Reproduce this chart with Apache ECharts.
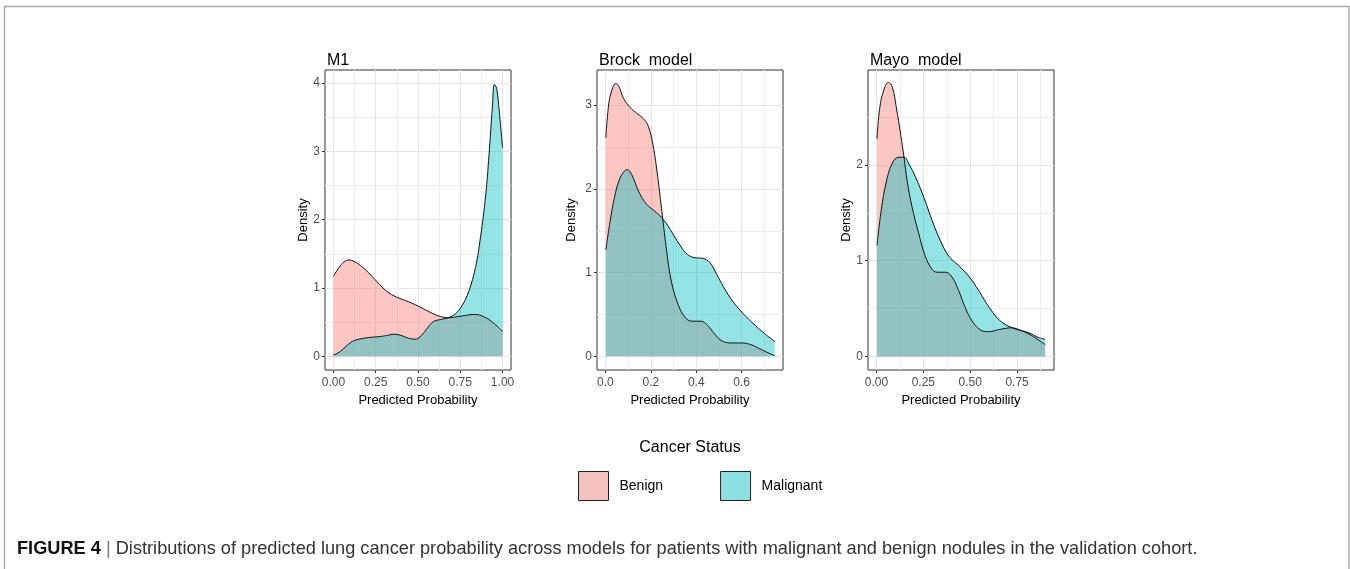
<!DOCTYPE html>
<html>
<head>
<meta charset="utf-8">
<title>Figure 4</title>
<script src="https://cdn.jsdelivr.net/npm/echarts@6/dist/echarts.min.js"></script>
<style>
  html, body { margin: 0; padding: 0; background: #fff; }
  #chart { width: 1350px; height: 569px; }
</style>
</head>
<body>
<div id="chart"></div>
<script>
// panel titles and legend names
var panelTitles = ['M1', 'Brock  model', 'Mayo  model'];
var statusNames = ['Benign', 'Malignant'];

// tick values per panel
var m1XTicks = [0, 0.25, 0.5, 0.75, 1];
var m1YTicks = [0, 1, 2, 3, 4];
var brockXTicks = [0, 0.2, 0.4, 0.6];
var brockYTicks = [0, 1, 2, 3];
var mayoXTicks = [0, 0.25, 0.5, 0.75];
var mayoYTicks = [0, 1, 2];

// density curves: [probability, density]
var m1Benign = [[0, 1.17], [0.033, 1.3], [0.062, 1.38], [0.092, 1.41], [0.121, 1.39], [0.16, 1.33],
  [0.209, 1.22], [0.258, 1.09], [0.316, 0.95], [0.375, 0.865], [0.443, 0.8], [0.502, 0.734],
  [0.56, 0.66], [0.619, 0.594], [0.678, 0.565], [0.756, 0.589], [0.834, 0.613], [0.893, 0.575],
  [0.951, 0.478], [1, 0.362]];
var m1Malignant = [[0, 0.02], [0.033, 0.058], [0.072, 0.14], [0.111, 0.217], [0.15, 0.25], [0.209, 0.275],
  [0.277, 0.29], [0.326, 0.31], [0.355, 0.324], [0.395, 0.31], [0.443, 0.266], [0.482, 0.25],
  [0.512, 0.285], [0.55, 0.396], [0.59, 0.507], [0.639, 0.541], [0.678, 0.565], [0.72, 0.62],
  [0.76, 0.74], [0.8, 0.95], [0.84, 1.3], [0.87, 1.75], [0.9, 2.35], [0.92, 2.95], [0.94, 3.65],
  [0.952, 3.98], [0.965, 3.92], [0.98, 3.6], [1, 3.05]];

var brockBenign = [[0.002, 2.61], [0.015, 3.02], [0.03, 3.19], [0.045, 3.26], [0.06, 3.22], [0.08, 3.08],
  [0.11, 2.97], [0.14, 2.9], [0.17, 2.83], [0.19, 2.74], [0.21, 2.52], [0.23, 2.15], [0.25, 1.7],
  [0.27, 1.25], [0.29, 0.9], [0.32, 0.62], [0.35, 0.47], [0.38, 0.42], [0.42, 0.42], [0.45, 0.37],
  [0.48, 0.27], [0.51, 0.19], [0.55, 0.16], [0.6, 0.16], [0.64, 0.14], [0.68, 0.09], [0.71, 0.05],
  [0.745, 0.01]];
var brockMalignant = [[0.002, 1.27], [0.02, 1.6], [0.04, 1.9], [0.06, 2.1], [0.08, 2.2], [0.095, 2.23],
  [0.11, 2.2], [0.13, 2.08], [0.15, 1.95], [0.18, 1.82], [0.21, 1.75], [0.24, 1.68], [0.27, 1.58],
  [0.3, 1.45], [0.33, 1.32], [0.36, 1.22], [0.39, 1.18], [0.43, 1.17], [0.46, 1.12], [0.49, 0.98],
  [0.52, 0.83], [0.56, 0.66], [0.6, 0.53], [0.64, 0.42], [0.68, 0.32], [0.72, 0.23], [0.745, 0.18]];

var mayoBenign = [[0.003, 2.27], [0.018, 2.6], [0.041, 2.79], [0.064, 2.86], [0.085, 2.81], [0.106, 2.6],
  [0.129, 2.32], [0.147, 2.08], [0.164, 1.83], [0.19, 1.56], [0.226, 1.28], [0.26, 1.05], [0.297, 0.91],
  [0.324, 0.88], [0.368, 0.88], [0.403, 0.83], [0.438, 0.69], [0.474, 0.51], [0.509, 0.375],
  [0.553, 0.28], [0.598, 0.26], [0.65, 0.28], [0.72, 0.3], [0.774, 0.27], [0.827, 0.22], [0.9, 0.125]];
var mayoMalignant = [[0.003, 1.16], [0.023, 1.49], [0.05, 1.8], [0.085, 2.02], [0.12, 2.08], [0.147, 2.08],
  [0.173, 2.01], [0.209, 1.87], [0.253, 1.66], [0.297, 1.42], [0.341, 1.21], [0.385, 1.05],
  [0.438, 0.95], [0.492, 0.84], [0.545, 0.69], [0.606, 0.5], [0.668, 0.36], [0.739, 0.29],
  [0.81, 0.25], [0.863, 0.2], [0.9, 0.18]];

var fillColors = ['rgba(248,118,109,0.42)', 'rgba(0,191,196,0.42)'];

// panel layout (ggplot-like expanded ranges)
var panels = [
  { left: 325, xMin: -0.05, xMax: 1.05, yMin: -0.2, yMax: 4.19, xStep: 0.25, yStep: 1, digits: 2,
    xTicks: m1XTicks, yTicks: m1YTicks, nameGap: 13, curves: [m1Benign, m1Malignant] },
  { left: 597, xMin: -0.037, xMax: 0.782, yMin: -0.163, yMax: 3.42, xStep: 0.2, yStep: 1, digits: 1,
    xTicks: brockXTicks, yTicks: brockYTicks, nameGap: 19, curves: [brockBenign, brockMalignant] },
  { left: 868, xMin: -0.045, xMax: 0.947, yMin: -0.14, yMax: 2.99, xStep: 0.25, yStep: 1, digits: 2,
    xTicks: mayoXTicks, yTicks: mayoYTicks, nameGap: 14, curves: [mayoBenign, mayoMalignant] }
];

var grids = [], xAxes = [], yAxes = [], series = [], titles = [];

panels.forEach(function (p, i) {
  grids.push({
    left: p.left, top: 70, width: 186, height: 300,
    show: true, borderColor: '#333', borderWidth: 1, backgroundColor: '#fff'
  });
  titles.push({
    text: panelTitles[i], left: p.left + 2, top: 53, padding: 0,
    textStyle: { fontFamily: 'Liberation Sans', fontSize: 16, fontWeight: 'normal', color: '#000' }
  });
  var digits = p.digits;
  xAxes.push({
    type: 'value', gridIndex: i, min: p.xMin, max: p.xMax,
    minInterval: p.xStep, maxInterval: p.xStep,
    name: 'Predicted Probability', nameLocation: 'middle', nameGap: 24,
    nameTextStyle: { fontFamily: 'Liberation Sans', fontSize: 13, color: '#000' },
    axisLine: { show: false, onZero: false },
    axisTick: { show: true, length: 3, customValues: p.xTicks, lineStyle: { color: '#333' } },
    axisLabel: {
      customValues: p.xTicks, margin: 7, color: '#4d4d4d', fontSize: 12, fontFamily: 'Liberation Sans',
      formatter: function (v) { return v.toFixed(digits); }
    },
    splitLine: { show: true, lineStyle: { color: '#e4e4e4', width: 1 } },
    minorTick: { show: false, splitNumber: 2 },
    minorSplitLine: { show: true, lineStyle: { color: '#eeeeee', width: 1 } }
  });
  yAxes.push({
    type: 'value', gridIndex: i, min: p.yMin, max: p.yMax,
    minInterval: p.yStep, maxInterval: p.yStep,
    name: 'Density', nameLocation: 'middle', nameGap: p.nameGap,
    nameTextStyle: { fontFamily: 'Liberation Sans', fontSize: 13, color: '#000' },
    axisLine: { show: false, onZero: false },
    axisTick: { show: true, length: 3, customValues: p.yTicks, lineStyle: { color: '#333' } },
    axisLabel: {
      customValues: p.yTicks, margin: 5, color: '#4d4d4d', fontSize: 12, fontFamily: 'Liberation Sans'
    },
    splitLine: { show: true, lineStyle: { color: '#e4e4e4', width: 1 } },
    minorTick: { show: false, splitNumber: 2 },
    minorSplitLine: { show: true, lineStyle: { color: '#eeeeee', width: 1 } }
  });
  p.curves.forEach(function (curve, k) {
    series.push({
      name: statusNames[k], type: 'line', xAxisIndex: i, yAxisIndex: i,
      data: curve, smooth: 0.4, symbol: 'none', silent: true,
      itemStyle: { color: fillColors[k] },
      lineStyle: { color: '#111', width: 1 },
      areaStyle: { color: fillColors[k], opacity: 1, origin: 0 }
    });
  });
});

// legend title and caption
titles.push({
  text: 'Cancer Status', left: 690, top: 440, textAlign: 'center', padding: 0,
  textStyle: { fontFamily: 'Liberation Sans', fontSize: 16, fontWeight: 'normal', color: '#000' }
});
titles.push({
  text: '{b|FIGURE 4} {s||} Distributions of predicted lung cancer probability across models for patients with malignant and benign nodules in the validation cohort.',
  left: 17, top: 540, padding: 0,
  textStyle: {
    fontFamily: 'Liberation Sans', fontSize: 18.2, fontWeight: 'normal', color: '#333',
    rich: {
      b: { fontFamily: 'Liberation Sans', fontSize: 18.2, fontWeight: 'bold', color: '#111' },
      s: { fontFamily: 'Liberation Sans', fontSize: 18.2, color: '#777' }
    }
  }
});

var myChart = echarts.init(document.getElementById('chart'), null, { renderer: 'canvas' });
myChart.setOption({
  backgroundColor: '#fff',
  animation: false,
  title: titles,
  grid: grids,
  xAxis: xAxes,
  yAxis: yAxes,
  legend: {
    left: 578, top: 471, padding: 0, orient: 'horizontal',
    itemWidth: 30, itemHeight: 29, itemGap: 57, icon: 'rect',
    selectedMode: false,
    textStyle: { fontFamily: 'Liberation Sans', fontSize: 14, color: '#000', padding: [0, 0, 0, 6] },
    data: [
      { name: 'Benign', itemStyle: { color: 'rgba(240,160,154,0.65)', borderColor: '#222', borderWidth: 1 } },
      { name: 'Malignant', itemStyle: { color: 'rgba(60,200,204,0.58)', borderColor: '#222', borderWidth: 1 } }
    ]
  },
  graphic: [{
    type: 'rect', silent: true, z: -10,
    shape: { x: 4.5, y: 6.5, width: 1344.5, height: 600 },
    style: { fill: 'none', stroke: '#aaa', lineWidth: 1.5 }
  }],
  series: series
});
</script>
</body>
</html>
